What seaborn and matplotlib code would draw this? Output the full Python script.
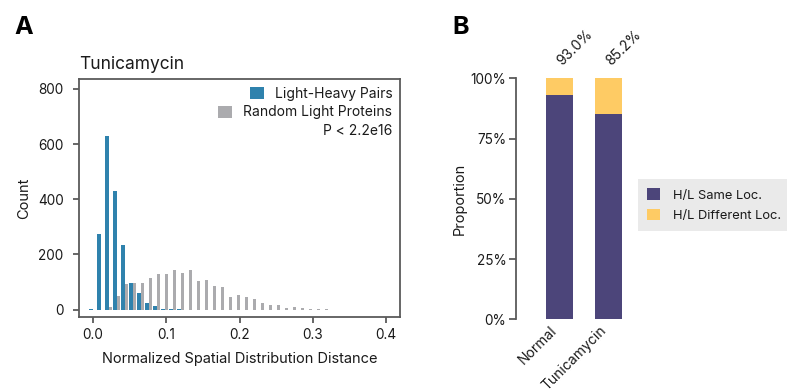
import numpy as np
import pandas as pd
import matplotlib
matplotlib.use("Agg")
import matplotlib.pyplot as plt
import matplotlib.transforms as mtransforms
from matplotlib.patches import Patch
import seaborn as sns

# ---------------- data ----------------
BIN_WIDTH = 0.0109
pairs_counts = [2, 273, 628, 430, 234, 98, 60, 24, 12, 3, 2, 1, 0, 0, 0,
                0, 0, 0, 0, 0, 0, 0, 0, 0, 0, 0, 0, 0, 0, 0]
random_counts = [0, 0, 8, 48, 91, 98, 98, 115, 128, 130, 142, 132, 144, 103, 107,
                 87, 81, 46, 52, 45, 38, 23, 17, 17, 5, 8, 6, 1, 1, 1]
hist_groups = ["Light-Heavy Pairs", "Random Light Proteins"]
x_ticks = [0.0, 0.1, 0.2, 0.3, 0.4]
y_ticks = [0, 200, 400, 600, 800]

conditions = ["Normal", "Tunicamycin"]
same_loc = [0.930, 0.852]
diff_loc = [0.070, 0.148]
stack_groups = ["H/L Same Loc.", "H/L Different Loc."]
pct_labels = ["93.0%", "85.2%"]
prop_ticks = [0, 0.25, 0.5, 0.75, 1.0]
prop_ticklabels = ["0%", "25%", "50%", "75%", "100%"]

# ---------------- style ----------------
sns.set_theme(style="white")
plt.rcParams["font.family"] = ["Inter", "DejaVu Sans"]
BLUE = "#2F82AD"
GREY = "#ABABAE"
PURPLE = "#4C457A"
YELLOW = "#FECB64"
SPINE = "#5A5A5A"
TXT = "#1A1A1A"

W, H = 787, 392
fig = plt.figure(figsize=(W / 100, H / 100), dpi=100)

# ---------------- panel A ----------------
n = len(pairs_counts)
centers = np.arange(n) * BIN_WIDTH
df = pd.DataFrame({
    "dist": np.concatenate([centers, centers]),
    "count": pairs_counts + random_counts,
    "group": [hist_groups[0]] * n + [hist_groups[1]] * n,
})

axA = fig.add_axes([79 / W, 1 - 317 / H, (400 - 79) / W, (317 - 79) / H])
sns.histplot(data=df, x="dist", weights="count", hue="group", hue_order=hist_groups,
             binwidth=BIN_WIDTH, binrange=(-0.5 * BIN_WIDTH, (n - 0.5) * BIN_WIDTH),
             multiple="dodge", shrink=0.88, alpha=1, linewidth=0,
             palette=[BLUE, GREY], legend=False, ax=axA)
axA.set_xlim(-0.0191, 0.419)
axA.set_ylim(-27, 836)
axA.set_xticks(x_ticks)
axA.set_xticklabels([f"{t:.1f}" for t in x_ticks])
axA.set_yticks(y_ticks)
for s in axA.spines.values():
    s.set_visible(True)
    s.set_color(SPINE)
    s.set_linewidth(1.3)
axA.tick_params(axis="both", direction="out", length=4, width=1.3, color=SPINE,
                labelsize=9.8, labelcolor=TXT, left=True, bottom=True)
axA.tick_params(axis="y", pad=7)
axA.tick_params(axis="x", pad=4)
axA.set_xlabel("Normalized Spatial Distribution Distance", fontsize=10.5, color=TXT, labelpad=7)
axA.set_ylabel("Count", fontsize=10.5, color=TXT, labelpad=5)
axA.set_title("Tunicamycin", loc="left", fontsize=12.5, color=TXT, pad=7)

handles = [Patch(facecolor=BLUE, edgecolor="none"),
           Patch(facecolor=GREY, edgecolor="none"),
           Patch(facecolor="none", edgecolor="none")]
legA = axA.legend(handles, hist_groups + ["P < 2.2e16"], loc="upper right",
                  bbox_to_anchor=(1.0, 1.0), frameon=False, fontsize=10,
                  handlelength=1.0, handleheight=1.0, handletextpad=0.8,
                  labelspacing=0.35, borderaxespad=0.15)
for col in legA._legend_handle_box.get_children():
    col.align = "right"
for t in legA.get_texts():
    t.set_color(TXT)

# ---------------- panel B ----------------
axB = fig.add_axes([516 / W, 1 - 319.3 / H, 136 / W, 241 / H])
dfB = pd.DataFrame({"cond": conditions, "same": same_loc,
                    "total": np.array(same_loc) + np.array(diff_loc)})
sns.barplot(data=dfB, x="cond", y="total", color=YELLOW, saturation=1, width=0.55,
            linewidth=0, ax=axB)
sns.barplot(data=dfB, x="cond", y="same", color=PURPLE, saturation=1, width=0.55,
            linewidth=0, ax=axB)
axB.set_xlim(-0.888, 1.888)
axB.set_ylim(0, 1)
axB.set_yticks(prop_ticks)
axB.set_yticklabels(prop_ticklabels)
for side in ["top", "right", "bottom"]:
    axB.spines[side].set_visible(False)
axB.spines["left"].set_color(SPINE)
axB.spines["left"].set_linewidth(1.3)
axB.tick_params(axis="y", direction="out", length=5, width=1.3, color=SPINE,
                labelsize=9.8, labelcolor=TXT, pad=2, left=True)
axB.tick_params(axis="x", length=0, labelsize=10, labelcolor=TXT, pad=3)
shift = mtransforms.ScaledTranslation(-7 / 72, 0, fig.dpi_scale_trans)
for lab in axB.get_xticklabels():
    lab.set_rotation(45)
    lab.set_ha("right")
    lab.set_va("top")
    lab.set_rotation_mode("anchor")
    lab.set_transform(lab.get_transform() + shift)
axB.set_xlabel("")
axB.set_ylabel("Proportion", fontsize=10.5, color=TXT, labelpad=3)
for i, lab in enumerate(pct_labels):
    axB.annotate(lab, xy=(i, 1.0), xytext=(-3.5, 7), textcoords="offset points",
                 rotation=45, ha="left", va="bottom", fontsize=10, color=TXT,
                 annotation_clip=False)

handlesB = [Patch(facecolor=PURPLE, edgecolor="none"), Patch(facecolor=YELLOW, edgecolor="none")]
legB = fig.legend(handlesB, stack_groups, loc="upper left",
                  bbox_to_anchor=(638 / W, 1 - 179 / H), frameon=True, fontsize=9.3,
                  handlelength=1.0, handleheight=1.0, handletextpad=1.0,
                  labelspacing=0.55, borderpad=0.72, borderaxespad=0)
legB.get_frame().set_facecolor("#E5E5E5")
legB.get_frame().set_edgecolor("none")
legB.get_frame().set_boxstyle("square", pad=0)
for t in legB.get_texts():
    t.set_color(TXT)

# ---------------- panel letters ----------------
fig.text(14 / W, 1 - 34 / H, "A", fontsize=18, fontweight="bold", color="black", va="baseline")
fig.text(452 / W, 1 - 34 / H, "B", fontsize=18, fontweight="bold", color="black", va="baseline")

fig.savefig("out.png", dpi=100)
